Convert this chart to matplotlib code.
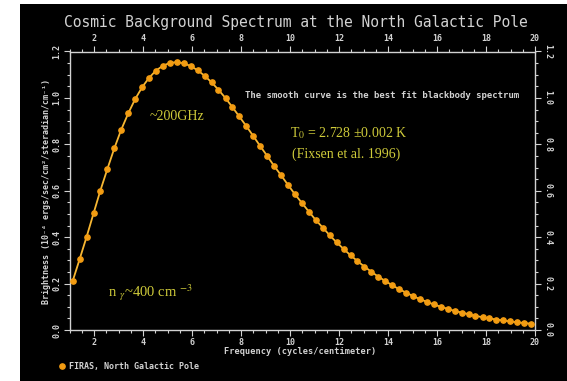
import matplotlib
matplotlib.use("Agg")
import matplotlib.pyplot as plt
from matplotlib.patches import Rectangle
from matplotlib.ticker import MultipleLocator, FormatStrFormatter

# FIRAS spectrum, frequency in cycles/cm, brightness in 1e-4 erg/s/cm^2/sr/cm^-1
freq = [1.13, 1.41, 1.70, 1.98, 2.26, 2.55, 2.83, 3.11, 3.40, 3.68,
        3.97, 4.25, 4.53, 4.82, 5.10, 5.38, 5.67, 5.95, 6.23, 6.52,
        6.80, 7.08, 7.37, 7.65, 7.93, 8.22, 8.50, 8.78, 9.07, 9.35,
        9.64, 9.92, 10.20, 10.49, 10.77, 11.05, 11.34, 11.62, 11.90, 12.19,
        12.47, 12.75, 13.04, 13.32, 13.60, 13.89, 14.17, 14.45, 14.74, 15.02,
        15.31, 15.59, 15.87, 16.16, 16.44, 16.72, 17.01, 17.29, 17.57, 17.86,
        18.14, 18.42, 18.71, 18.99, 19.27, 19.56, 19.84]
bright = [0.211, 0.304, 0.402, 0.502, 0.601, 0.695, 0.783, 0.863, 0.934, 0.995,
          1.047, 1.087, 1.118, 1.139, 1.151, 1.154, 1.149, 1.137, 1.119, 1.095,
          1.067, 1.035, 0.999, 0.960, 0.920, 0.878, 0.836, 0.793, 0.750, 0.707,
          0.666, 0.625, 0.585, 0.547, 0.510, 0.474, 0.441, 0.408, 0.378, 0.349,
          0.322, 0.297, 0.273, 0.251, 0.230, 0.211, 0.193, 0.176, 0.161, 0.146,
          0.133, 0.121, 0.110, 0.100, 0.091, 0.082, 0.075, 0.068, 0.061, 0.055,
          0.050, 0.045, 0.041, 0.037, 0.033, 0.030, 0.027]

W, H = 567, 381
GREY = "#d2d2d2"
YELLOW = "#cfcb3a"
MONO = "DejaVu Sans Mono"
SERIF = "Liberation Serif"
plt.rcParams["mathtext.fontset"] = "stix"


def px(x, y):
    return x / W, 1 - y / H


fig = plt.figure(figsize=(W / 100, H / 100), dpi=100, facecolor="white")
fig.patches.append(Rectangle((20 / W, 0), 1, 1 - 4 / H, transform=fig.transFigure,
                             facecolor="black", edgecolor="none", zorder=-10))

ax = fig.add_axes([69.5 / W, 1 - 330 / H, (535 - 69.5) / W, (330 - 51.5) / H])
ax.set_facecolor("black")
ax.plot(freq, bright, color="#f7b733", lw=1.3, zorder=2)
ax.plot(freq, bright, "o", color="#f29c12", ms=3.8, mec="#f29c12", zorder=3)
ax.set_xlim(1, 20)
ax.set_ylim(0, 1.2)

for s in ax.spines.values():
    s.set_color(GREY)
    s.set_linewidth(1.0)

ax.xaxis.set_major_locator(MultipleLocator(2))
ax.xaxis.set_minor_locator(MultipleLocator(0.5))
ax.yaxis.set_major_locator(MultipleLocator(0.2))
ax.yaxis.set_minor_locator(MultipleLocator(0.05))
ax.yaxis.set_major_formatter(FormatStrFormatter("%.1f"))
ax.tick_params(which="both", direction="out", colors=GREY, top=True, right=True,
               labeltop=True, labelright=True, labelsize=6, width=0.8)
ax.tick_params(which="major", length=4, pad=2)
ax.tick_params(which="minor", length=2)
for t in ax.xaxis.get_major_ticks():
    for lab in (t.label1, t.label2):
        lab.set_fontfamily(MONO)
        lab.set_fontweight("bold")
for t in ax.yaxis.get_major_ticks():
    t.label1.set_rotation(90)
    t.label2.set_rotation(-90)
    for lab in (t.label1, t.label2):
        lab.set_fontfamily(MONO)
        lab.set_fontweight("bold")
        lab.set_va("center")

fig.text(*px(296, 22), "Cosmic Background Spectrum at the North Galactic Pole",
         family=MONO, fontsize=10.5, color=GREY, ha="center", va="center")
fig.text(*px(300, 352), "Frequency (cycles/centimeter)", family=MONO,
         fontsize=6.2, fontweight="bold", color=GREY, ha="center", va="center")
fig.text(*px(47, 191), "Brightness (10⁻⁴ ergs/sec/cm²/steradian/cm⁻¹)",
         family=MONO, fontsize=6, fontweight="bold", color=GREY,
         rotation=90, ha="center", va="center")
fig.text(*px(382, 96), "The smooth curve is the best fit blackbody spectrum",
         family=MONO, fontsize=6.5, fontweight="bold", color=GREY,
         ha="center", va="center")

# legend entry below the axis
fig.lines.append(plt.Line2D([62 / W], [1 - 366 / H], marker="o", ms=3.8,
                            color="#f29c12", transform=fig.transFigure))
fig.text(*px(69, 366), "FIRAS, North Galactic Pole", family=MONO, fontsize=6,
         fontweight="bold", color=GREY, ha="left", va="center")

fig.text(*px(150, 117), "~200GHz", family=SERIF, fontsize=10, color=YELLOW,
         ha="left", va="center")
fig.text(*px(290, 133), r"T$_0$ = 2.728 ±0.002 K", family=SERIF, fontsize=10,
         color=YELLOW, ha="left", va="center")
fig.text(*px(292, 154), "(Fixsen et al. 1996)", family=SERIF, fontsize=10,
         color=YELLOW, ha="left", va="center")
fig.text(*px(108, 293), r"n $_{\gamma}$~400 cm $^{-3}$", family=SERIF,
         fontsize=10.5, color=YELLOW, ha="left", va="center")

fig.savefig("out.png", dpi=100, facecolor=fig.get_facecolor())
